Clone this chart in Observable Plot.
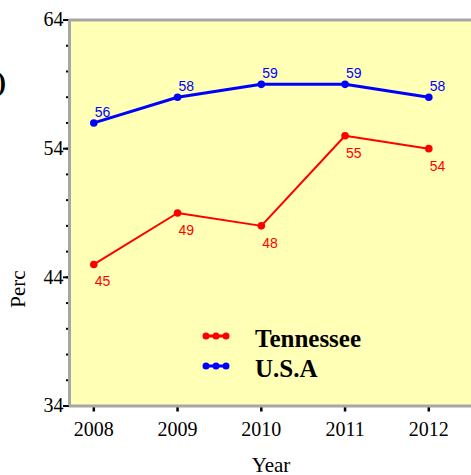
<!DOCTYPE html>
<html><head><meta charset="utf-8">
<script src="https://cdn.jsdelivr.net/npm/d3@7"></script>
<script src="https://cdn.jsdelivr.net/npm/@observablehq/plot@0.6"></script>
<style>body{margin:0;background:#fff} svg{display:block}</style>
</head><body><div id="chart"></div>
<script>
const years = [2008, 2009, 2010, 2011, 2012];
const tennessee = [45, 49, 48, 55, 54];
const usa = [56, 58, 59, 59, 58];
const seriesNames = ["Tennessee", "U.S.A"];
const seriesColors = ["#FF0000", "#0000FF"];
const yMajorTicks = [34, 44, 54, 64];
const yMinorTicks = d3.range(34, 65, 2);
const xLabel = "Year";
const yLabel = "Perc";

const tn = years.map((yr, i) => ({year: yr, value: tennessee[i], series: seriesNames[0]}));
const us = years.map((yr, i) => ({year: yr, value: usa[i], series: seriesNames[1]}));

const W = 471, H = 475, ML = 69, MT = 19.5, MB = 69.5;
const step = 83.75;               // px per year
const x0 = 93.3;                  // px of first year
const xDomain = [years[0] - (x0 - ML) / step, years[0] + (W - x0) / step];
const serif = "'Liberation Serif', 'Times New Roman', serif";
const sans = "'Liberation Sans', Arial, sans-serif";
const gray = "#A6A6A6";

const plot = Plot.plot({
  width: W, height: H,
  marginLeft: ML, marginRight: 0, marginTop: MT, marginBottom: MB,
  style: {fontFamily: serif, background: "#fff", color: "#000", overflow: "visible"},
  x: {domain: xDomain, label: null},
  y: {domain: [yMajorTicks[0], yMajorTicks[yMajorTicks.length - 1]], label: null},
  marks: [
    Plot.frame({fill: "#FFFFB5", stroke: null}),
    Plot.axisY(yMinorTicks, {tickSize: 3, tickFormat: () => "", strokeWidth: 2, label: null}),
    Plot.axisY(yMajorTicks, {tickSize: 6, tickPadding: 0, fontSize: 20, strokeWidth: 2, label: null}),
    Plot.axisX(years, {tickSize: 6, tickPadding: 10, fontSize: 20, strokeWidth: 2.5, tickFormat: d => String(d), label: null}),
    Plot.ruleY([yMajorTicks[0], yMajorTicks[yMajorTicks.length - 1]], {stroke: gray, strokeWidth: 3}),
    Plot.ruleX([xDomain[0]], {stroke: gray, strokeWidth: 3}),
    Plot.line(tn, {x: "year", y: "value", stroke: seriesColors[0], strokeWidth: 2}),
    Plot.dot(tn, {x: "year", y: "value", fill: seriesColors[0], r: 3.8}),
    Plot.line(us, {x: "year", y: "value", stroke: seriesColors[1], strokeWidth: 3}),
    Plot.dot(us, {x: "year", y: "value", fill: seriesColors[1], r: 3.8}),
    Plot.text(us, {x: "year", y: "value", text: d => String(d.value), fill: seriesColors[1],
      textAnchor: "start", lineAnchor: "bottom", dx: 1, dy: -6, fontFamily: sans, fontSize: 14}),
    Plot.text(tn, {x: "year", y: "value", text: d => String(d.value), fill: seriesColors[0],
      textAnchor: "start", lineAnchor: "bottom", dx: 1, dy: 22, fontFamily: sans, fontSize: 14})
  ]
});

const svg = d3.select(plot);
// legend
const legY = [336, 366];
seriesNames.forEach((name, i) => {
  const g = svg.append("g");
  g.append("line").attr("x1", 204).attr("x2", 228).attr("y1", legY[i]).attr("y2", legY[i])
    .attr("stroke", seriesColors[i]).attr("stroke-width", 3);
  [206, 216, 226].forEach(cx => g.append("circle").attr("cx", cx).attr("cy", legY[i]).attr("r", 3.5).attr("fill", seriesColors[i]));
  g.append("text").attr("x", 255).attr("y", legY[i] + 11).attr("text-anchor", "start").attr("font-family", serif)
    .attr("font-weight", "bold").attr("font-size", 25).attr("fill", "#000").text(name);
});
// axis titles
svg.append("text").attr("transform", "translate(25,289) rotate(-90)").attr("text-anchor", "middle")
  .attr("font-family", serif).attr("font-size", 21).attr("fill", "#000").text(yLabel);
svg.append("text").attr("x", 271).attr("y", 472).attr("text-anchor", "middle")
  .attr("font-family", serif).attr("font-size", 21).attr("fill", "#000").text(xLabel);
// cropped glyph at top-left
svg.append("text").attr("x", 6).attr("y", 91).attr("text-anchor", "end")
  .attr("font-family", serif).attr("font-weight", "bold").attr("font-size", 28).attr("fill", "#000").text(")");

document.getElementById("chart").appendChild(plot);
</script>
</body></html>
